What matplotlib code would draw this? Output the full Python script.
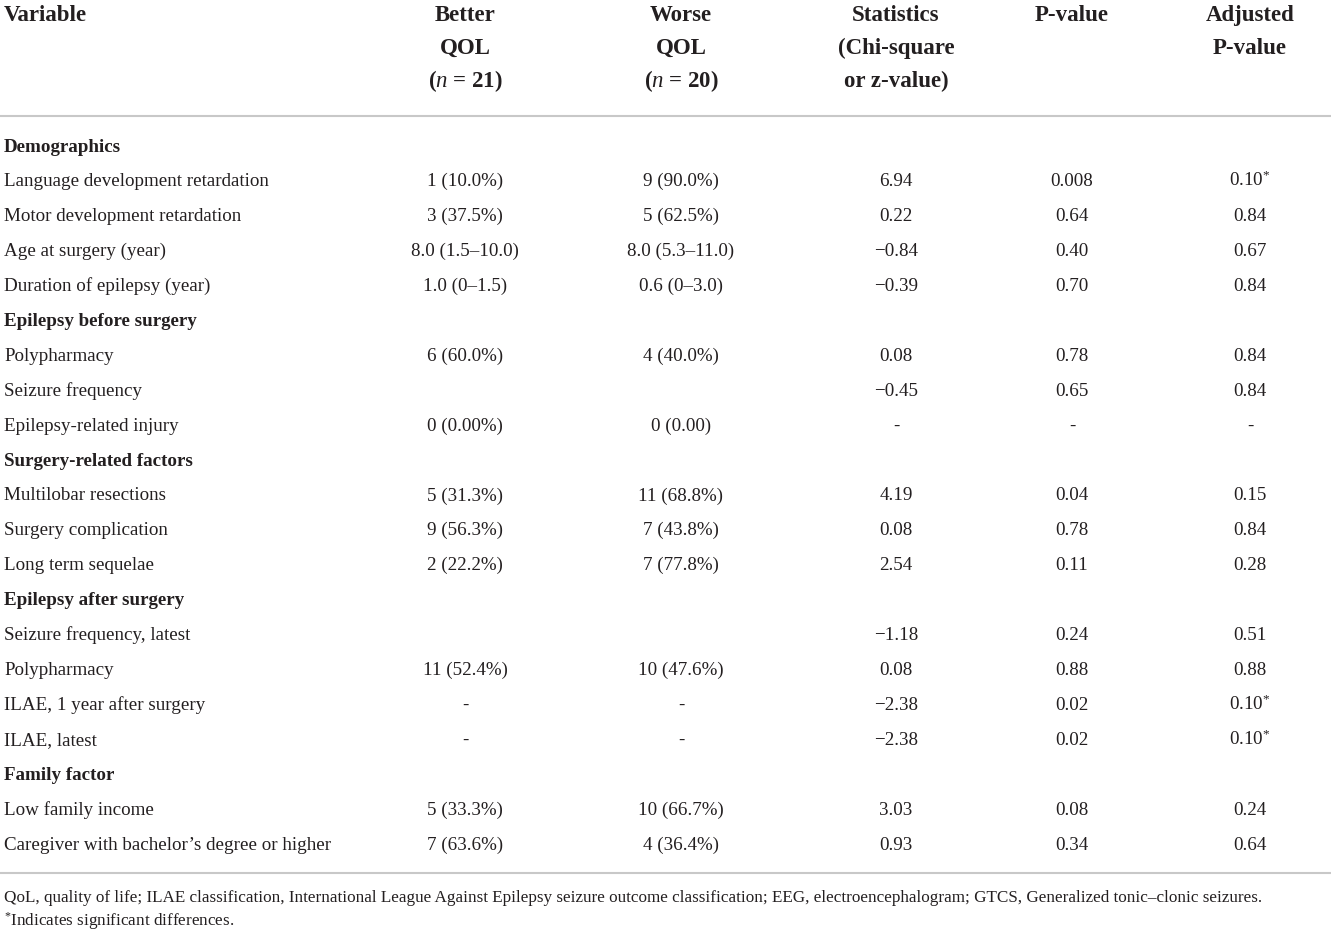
import matplotlib.pyplot as plt

plt.rcParams['font.family'] = ['Liberation Serif', 'DejaVu Serif']
plt.rcParams['mathtext.fontset'] = 'custom'
plt.rcParams['mathtext.rm'] = 'Liberation Serif'
plt.rcParams['mathtext.it'] = 'Liberation Serif:italic'

M = "\u2212"
S = "$^{*}$"
headers = [
    ["Variable"],
    ["Better", "QOL", "($n$ = 21)"],
    ["Worse", "QOL", "($n$ = 20)"],
    ["Statistics", "(Chi-square", "or z-value)"],
    ["P-value"],
    ["Adjusted", "P-value"],
]

# (label, better, worse, stat, p, adj); None in better => section heading
rows = [
    ("Demographics", None, None, None, None, None),
    ("Language development retardation", "1 (10.0%)", "9 (90.0%)", "6.94", "0.008", "0.10" + S),
    ("Motor development retardation", "3 (37.5%)", "5 (62.5%)", "0.22", "0.64", "0.84"),
    ("Age at surgery (year)", "8.0 (1.5–10.0)", "8.0 (5.3–11.0)", M + "0.84", "0.40", "0.67"),
    ("Duration of epilepsy (year)", "1.0 (0–1.5)", "0.6 (0–3.0)", M + "0.39", "0.70", "0.84"),
    ("Epilepsy before surgery", None, None, None, None, None),
    ("Polypharmacy", "6 (60.0%)", "4 (40.0%)", "0.08", "0.78", "0.84"),
    ("Seizure frequency", "", "", M + "0.45", "0.65", "0.84"),
    ("Epilepsy-related injury", "0 (0.00%)", "0 (0.00)", "-", "-", "-"),
    ("Surgery-related factors", None, None, None, None, None),
    ("Multilobar resections", "5 (31.3%)", "11 (68.8%)", "4.19", "0.04", "0.15"),
    ("Surgery complication", "9 (56.3%)", "7 (43.8%)", "0.08", "0.78", "0.84"),
    ("Long term sequelae", "2 (22.2%)", "7 (77.8%)", "2.54", "0.11", "0.28"),
    ("Epilepsy after surgery", None, None, None, None, None),
    ("Seizure frequency, latest", "", "", M + "1.18", "0.24", "0.51"),
    ("Polypharmacy", "11 (52.4%)", "10 (47.6%)", "0.08", "0.88", "0.88"),
    ("ILAE, 1 year after surgery", "-", "-", M + "2.38", "0.02", "0.10" + S),
    ("ILAE, latest", "-", "-", M + "2.38", "0.02", "0.10" + S),
    ("Family factor", None, None, None, None, None),
    ("Low family income", "5 (33.3%)", "10 (66.7%)", "3.03", "0.08", "0.24"),
    ("Caregiver with bachelor’s degree or higher", "7 (63.6%)", "4 (36.4%)", "0.93", "0.34", "0.64"),
]

footnotes = [
    "QoL, quality of life; ILAE classification, International League Against Epilepsy seizure outcome "
    "classification; EEG, electroencephalogram; GTCS, Generalized tonic–clonic seizures.",
    S + "Indicates significant differences.",
]

W, H = 1331, 934
fig = plt.figure(figsize=(W / 100, H / 100), dpi=100)
ax = fig.add_axes([0, 0, 1, 1])
ax.set_xlim(0, W)
ax.set_ylim(H, 0)
ax.axis("off")

col_x = [4, 465, 681, 896, 1072, 1250]
txt = "#231f20"
line_c = "#c8c8c8"

# header (baseline aligned)
for ci, lines in enumerate(headers):
    for li, s in enumerate(lines):
        ax.text(col_x[ci], 21 + li * 33, s, fontsize=16.5, fontweight="bold", color=txt,
                ha="left" if ci == 0 else "center", va="baseline")

ax.plot([0, W], [116, 116], color=line_c, lw=1.5)

y0, dy = 151.5, 34.9
for ri, r in enumerate(rows):
    y = y0 + ri * dy
    if r[1] is None:
        ax.text(col_x[0], y, r[0], fontsize=13.7, fontweight="bold", color=txt, va="baseline")
        continue
    ax.text(col_x[0], y, r[0], fontsize=13.7, color=txt, va="baseline")
    for ci in range(1, 6):
        ax.text(col_x[ci], y, r[ci], fontsize=13.7, color=txt, ha="center", va="baseline")

ax.plot([0, W], [873, 873], color=line_c, lw=1.5)

for i, s in enumerate(footnotes):
    ax.text(col_x[0], 902 + i * 24, s, fontsize=12.3, color=txt, va="baseline")

fig.savefig("out.png", dpi=100)
